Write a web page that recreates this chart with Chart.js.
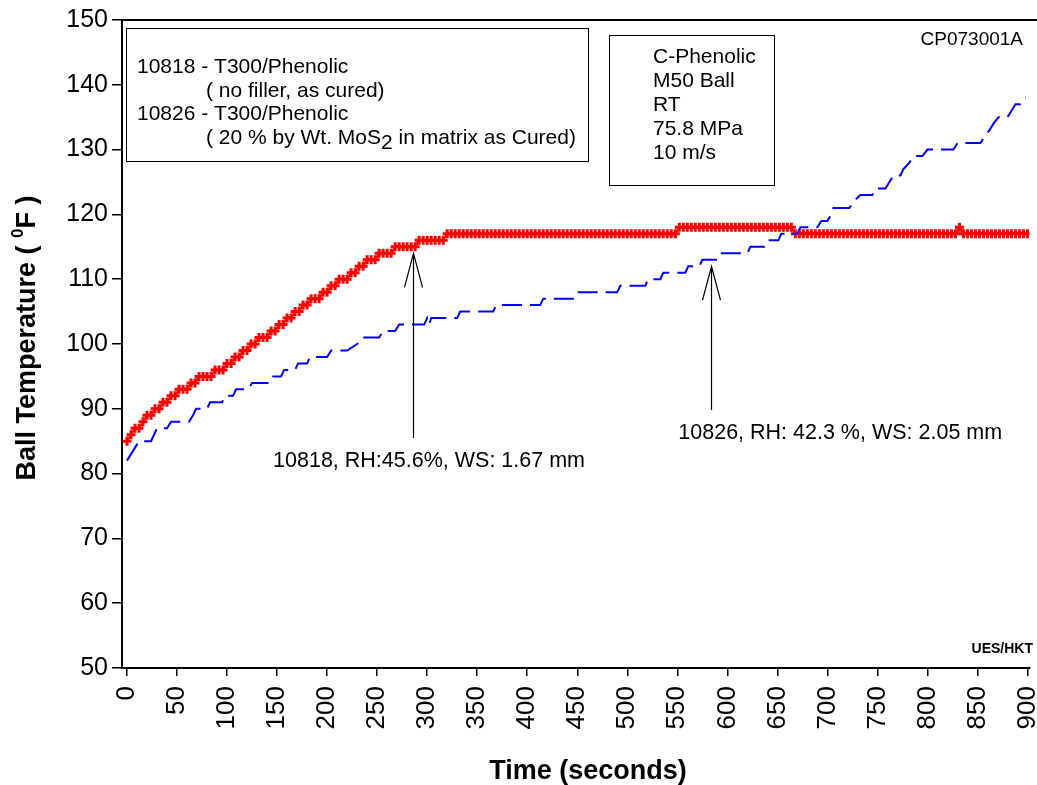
<!DOCTYPE html>
<html>
<head>
<meta charset="utf-8">
<script src="https://cdn.jsdelivr.net/npm/chart.js@4"></script>
<style>
    body { margin: 0; background: #fff; }
    .wrap { width: 1037px; height: 785px; position: relative; }
</style>
</head>
<body>
<div class="wrap"><canvas id="myChart"></canvas></div>
<script>
// tick labels
const xTicks = [0, 50, 100, 150, 200, 250, 300, 350, 400, 450, 500, 550, 600, 650, 700, 750, 800, 850, 900];
const yTicks = [50, 60, 70, 80, 90, 100, 110, 120, 130, 140, 150];

// 10818 - ball temperature, one reading every 4 seconds (0 .. 900 s)
const redStepSec = 4;
const redTemp = [
    85, 86, 87, 87, 88, 89, 89, 90, 90, 91, 91, 92, 92, 93, 93, 93, 94, 94, 95, 95, 95, 95, 96, 96, 96,
    97, 97, 98, 98, 99, 99, 100, 100, 101, 101, 101, 102, 102, 103, 103, 104, 104, 105, 105, 106, 106, 107, 107, 107, 108,
    108, 109, 109, 110, 110, 110, 111, 111, 112, 112, 113, 113, 113, 114, 114, 114, 114, 115, 115, 115, 115, 115, 115, 116, 116,
    116, 116, 116, 116, 116, 117, 117, 117, 117, 117, 117, 117, 117, 117, 117, 117, 117, 117, 117, 117, 117, 117, 117, 117, 117,
    117, 117, 117, 117, 117, 117, 117, 117, 117, 117, 117, 117, 117, 117, 117, 117, 117, 117, 117, 117, 117, 117, 117, 117, 117,
    117, 117, 117, 117, 117, 117, 117, 117, 117, 117, 117, 117, 117, 118, 118, 118, 118, 118, 118, 118, 118, 118, 118, 118, 118,
    118, 118, 118, 118, 118, 118, 118, 118, 118, 118, 118, 118, 118, 118, 118, 118, 118, 117, 117, 117, 117, 117, 117, 117, 117,
    117, 117, 117, 117, 117, 117, 117, 117, 117, 117, 117, 117, 117, 117, 117, 117, 117, 117, 117, 117, 117, 117, 117, 117, 117,
    117, 117, 117, 117, 117, 117, 117, 117, 118, 117, 117, 117, 117, 117, 117, 117, 117, 117, 117, 117, 117, 117, 117, 117, 117,
    117
];

// 10826 - ball temperature, corners of the step trace
const blueTime = [
    0, 12, 24, 27, 30, 40, 44, 62, 66, 69, 80, 83, 95, 98, 106, 109, 121, 125, 143, 146,
    154, 157, 168, 171, 180, 183, 200, 204, 220, 230, 235, 252, 256, 268, 272, 297, 300, 302, 304, 330,
    333, 366, 369, 413, 416, 447, 450, 490, 493, 518, 521, 533, 536, 558, 561, 572, 575, 590, 593, 620,
    623, 637, 640, 651, 654, 670, 673, 690, 694, 700, 704, 706, 722, 726, 733, 745, 748, 758, 762, 766,
    773, 776, 782, 786, 795, 800, 826, 830, 853, 857, 862, 866, 871, 880, 884, 888, 893, 897, 898
];
const blueTemp = [
    82, 85, 85, 86, 87, 87, 88, 88, 89, 90, 90, 91, 91, 92, 92, 93, 93, 94, 94, 95,
    95, 96, 96, 97, 97, 98, 98, 99, 99, 100, 101, 101, 102, 102, 103, 103, 104, 103, 104, 104,
    105, 105, 106, 106, 107, 107, 108, 108, 109, 109, 110, 110, 111, 111, 112, 112, 113, 113, 114, 114,
    115, 115, 116, 116, 117, 117, 118, 118, 119, 119, 120, 121, 121, 122, 123, 123, 124, 124, 125, 126,
    126, 127, 128, 129, 129, 130, 130, 131, 131, 132, 133, 134, 135, 135, 136, 137, 137, 138, 138
];

const FONT = '"Liberation Sans", Arial, sans-serif';

// draws the boxes, notes, arrows and axis titles
const decor = {
    id: 'decor',
    afterDraw(chart) {
        const ctx = chart.ctx;
        const a = chart.chartArea;
        const x = chart.scales.x;
        const y = chart.scales.y;
        ctx.save();
        ctx.fillStyle = '#000';
        ctx.strokeStyle = '#000';

        // top frame line
        ctx.lineWidth = 2;
        ctx.beginPath();
        ctx.moveTo(a.left, a.top);
        ctx.lineTo(chart.width, a.top);
        ctx.stroke();

        // legend boxes
        ctx.lineWidth = 1;
        ctx.strokeRect(126.5, 28.5, 462, 133);
        ctx.strokeRect(609.5, 35.5, 165, 150);

        ctx.textBaseline = 'middle';
        ctx.textAlign = 'left';
        ctx.font = '21px ' + FONT;
        ctx.fillText('10818 - T300/Phenolic', 137, 67);
        ctx.fillText('( no filler, as cured)', 206, 91);
        ctx.fillText('10826 - T300/Phenolic', 137, 114);
        let s = '( 20 % by Wt. MoS';
        ctx.fillText(s, 206, 138);
        let w = ctx.measureText(s).width;
        ctx.fillText('2', 206 + w, 143);
        w += ctx.measureText('2').width;
        ctx.fillText(' in matrix as Cured)', 206 + w, 138);

        ['C-Phenolic', 'M50 Ball', 'RT', '75.8 MPa', '10 m/s'].forEach((t, i) => {
            ctx.fillText(t, 653, 57 + i * 24);
        });

        ctx.font = '19px ' + FONT;
        ctx.textAlign = 'right';
        ctx.fillText('CP073001A', 1023, 40);
        ctx.font = 'bold 14px ' + FONT;
        ctx.fillText('UES/HKT', 1033, 649);

        // notes with arrows
        ctx.textAlign = 'left';
        ctx.font = '21.5px ' + FONT;
        ctx.fillText('10818, RH:45.6%, WS: 1.67 mm', x.getPixelForValue(146), y.getPixelForValue(82));
        ctx.fillText('10826, RH: 42.3 %, WS: 2.05 mm', x.getPixelForValue(551), y.getPixelForValue(86.3));

        const arrow = (t, top, bottom) => {
            const px = Math.round(x.getPixelForValue(t)) + 0.5;
            const pt = y.getPixelForValue(top);
            const pb = y.getPixelForValue(bottom);
            ctx.lineWidth = 1.2;
            ctx.beginPath();
            ctx.moveTo(px, pb);
            ctx.lineTo(px, pt);
            ctx.moveTo(px - 9, pt + 34);
            ctx.lineTo(px, pt);
            ctx.lineTo(px + 9, pt + 34);
            ctx.stroke();
        };
        arrow(286, 114, 85.5);
        arrow(584, 112, 89.8);

        // axis titles
        ctx.font = 'bold 27px ' + FONT;
        ctx.textAlign = 'center';
        ctx.fillText('Time (seconds)', 588, 772);

        ctx.translate(28, (a.top + a.bottom) / 2 - 6);
        ctx.rotate(-Math.PI / 2);
        const p1 = 'Ball Temperature ( ';
        const p3 = 'F )';
        ctx.font = 'bold 27px ' + FONT;
        const w1 = ctx.measureText(p1).width;
        const w3 = ctx.measureText(p3).width;
        ctx.font = 'bold 17px ' + FONT;
        const w2 = ctx.measureText('0').width;
        let cx = -(w1 + w2 + w3) / 2;
        ctx.textAlign = 'left';
        ctx.font = 'bold 27px ' + FONT;
        ctx.fillText(p1, cx, 0);
        ctx.font = 'bold 17px ' + FONT;
        ctx.fillText('0', cx + w1, -10);
        ctx.font = 'bold 27px ' + FONT;
        ctx.fillText(p3, cx + w1 + w2, 0);

        ctx.restore();
    }
};

new Chart(document.getElementById('myChart'), {
    type: 'line',
    data: {
        datasets: [
            {
                label: '10826',
                data: blueTime.map((t, i) => ({x: t, y: blueTemp[i]})),
                borderColor: '#0000ff',
                borderWidth: 2,
                borderDash: [20, 8],
                pointRadius: 0,
                tension: 0,
                order: 0
            },
            {
                label: '10818',
                data: redTemp.map((v, i) => ({x: i * redStepSec, y: v})),
                borderColor: '#ff0000',
                backgroundColor: '#ff0000',
                borderWidth: 2,
                pointStyle: 'cross',
                pointRadius: 4.5,
                pointBorderWidth: 3,
                pointBorderColor: '#ff0000',
                tension: 0,
                order: 1
            }
        ]
    },
    options: {
        responsive: true,
        maintainAspectRatio: false,
        animation: false,
        layout: {
            padding: {left: 0, top: 20, right: 0, bottom: 0}
        },
        plugins: {
            legend: {display: false},
            tooltip: {enabled: false}
        },
        scales: {
            x: {
                type: 'linear',
                min: -5,
                max: 902,
                afterBuildTicks: (s) => { s.ticks = xTicks.map(v => ({value: v})); },
                afterFit: (s) => {
                    s.height = 117;
                    s.paddingLeft = 0;
                    s.paddingRight = 0;
                },
                grid: {
                    drawOnChartArea: false,
                    drawTicks: true,
                    tickLength: 8,
                    color: '#000',
                    lineWidth: 1.5
                },
                border: {display: true, color: '#000', width: 2},
                ticks: {
                    autoSkip: false,
                    maxRotation: 90,
                    minRotation: 90,
                    padding: 10,
                    color: '#000',
                    font: {family: FONT, size: 26}
                }
            },
            y: {
                min: 50,
                max: 150,
                afterBuildTicks: (s) => { s.ticks = yTicks.map(v => ({value: v})); },
                afterFit: (s) => {
                    s.width = 122;
                    s.paddingTop = 0;
                    s.paddingBottom = 0;
                },
                grid: {
                    drawOnChartArea: false,
                    drawTicks: true,
                    tickLength: 10,
                    color: '#000',
                    lineWidth: 1.5
                },
                border: {display: true, color: '#000', width: 2},
                ticks: {
                    padding: 4,
                    color: '#000',
                    font: {family: FONT, size: 25}
                }
            }
        }
    },
    plugins: [decor]
});
</script>
</body>
</html>
